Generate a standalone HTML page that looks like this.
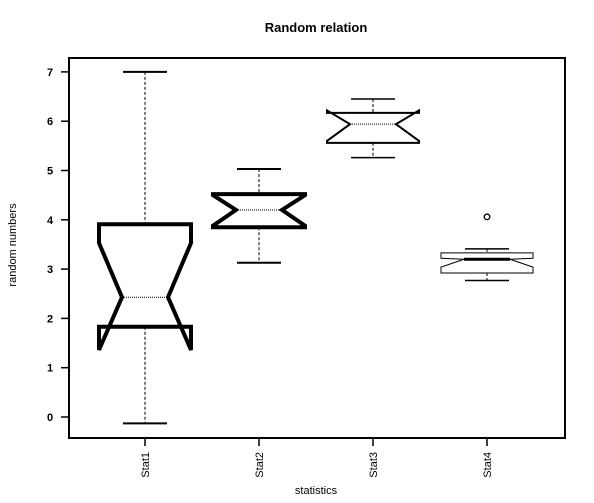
<!DOCTYPE html>
<html><head><meta charset="utf-8"><style>
html,body{margin:0;padding:0;background:#fff;}
svg{display:block;font-family:"Liberation Sans",sans-serif;}
</style></head><body>
<svg id="chart" width="594" height="503" viewBox="0 0 594 503">
<text x="316" y="32" text-anchor="middle" font-size="13" font-weight="bold">Random relation</text>
<rect x="69" y="58" width="496" height="380" fill="none" stroke="#000" stroke-width="2"/>
<g id="yaxis"></g>
<g id="xaxis"></g>
<g id="boxes"></g>
<text x="316" y="494" text-anchor="middle" font-size="11">statistics</text>
<text transform="translate(16,245) rotate(-90)" text-anchor="middle" font-size="11">random numbers</text>
</svg>
<script>
const categories = ["Stat1","Stat2","Stat3","Stat4"];
const whiskerLo = [-0.13, 3.13, 5.26, 2.77];
const q1 = [1.83, 3.85, 5.56, 2.92];
const median = [2.43, 4.2, 5.94, 3.2];
const q3 = [3.91, 4.52, 6.17, 3.33];
const whiskerHi = [7.0, 5.03, 6.45, 3.41];
const notchLo = [1.36, 3.88, 5.6, 3.04];
const notchHi = [3.53, 4.5, 6.22, 3.22];
const outliers = [[], [], [], [4.06]];
const yTicks = [0,1,2,3,4,5,6,7];
const lineWidths = [4, 4, 2, 1];

const NS = "http://www.w3.org/2000/svg";
const y = v => 417 - v * 49.3;
const x = i => 145 + i * 114;
const halfW = 46, capW = 22;
function mk(tag, attrs, parent){
  const e = document.createElementNS(NS, tag);
  for (const k in attrs) e.setAttribute(k, attrs[k]);
  parent.appendChild(e);
  return e;
}
const ya = document.getElementById("yaxis");
yTicks.forEach(t => {
  const l = mk("line", {x1:61, x2:69, y1:y(t), y2:y(t), stroke:"#000", "stroke-width":1.5}, ya);
  
  
  const tx = mk("text", {x:50, y:y(t)+4, "text-anchor":"middle", "font-size":11, "font-weight":"bold"}, ya);
  
  
  tx.textContent = t;
});
const xa = document.getElementById("xaxis");
const bx = document.getElementById("boxes");
categories.forEach((c, i) => {
  const cx = x(i);
  const l = mk("line", {x1:cx, x2:cx, y1:438, y2:446, stroke:"#000", "stroke-width":1.5}, xa);
  
  
  const tx = mk("text", {transform:`translate(${cx+4},452) rotate(-90)`, "text-anchor":"end", "font-size":11}, xa);
  
  
  tx.textContent = c;
  const g = mk("g", {}, bx);
  
  
  const lw = lineWidths[i];
  // whiskers
  const w1 = mk("line", {x1:cx, x2:cx, y1:y(whiskerHi[i]), y2:y(q3[i]), stroke:"#000", "stroke-width":1, "stroke-dasharray":"3,2"}, g);
  
  
  const w2 = mk("line", {x1:cx, x2:cx, y1:y(q1[i]), y2:y(whiskerLo[i]), stroke:"#000", "stroke-width":1, "stroke-dasharray":"3,2"}, g);
  
  
  const c1 = mk("line", {x1:cx-capW, x2:cx+capW, y1:y(whiskerHi[i]), y2:y(whiskerHi[i]), stroke:"#000", "stroke-width":Math.max(1.5, lw/2)}, g);
  
  
  const c2 = mk("line", {x1:cx-capW, x2:cx+capW, y1:y(whiskerLo[i]), y2:y(whiskerLo[i]), stroke:"#000", "stroke-width":Math.max(1.5, lw/2)}, g);
  
  
  // notched box
  const L = cx-halfW, R = cx+halfW;
  const pts = [[L,q1[i]],[L,notchLo[i]],[cx-halfW/2,median[i]],[L,notchHi[i]],[L,q3[i]],
               [R,q3[i]],[R,notchHi[i]],[cx+halfW/2,median[i]],[R,notchLo[i]],[R,q1[i]]];
  const p = mk("polygon", {points: pts.map(q => q[0]+","+y(q[1])).join(" "), fill:"#fff", stroke:"#000", "stroke-width":lw, "stroke-linejoin":"miter"}, g);
  
  
  const m = mk("line", {x1:cx-halfW/2, x2:cx+halfW/2, y1:y(median[i]), y2:y(median[i]), stroke:"#000", "stroke-width": i===3?3:1, "stroke-dasharray": i===3?"":"1,1"}, g);
  
  
  outliers[i].forEach(o => {
    const ci = mk("circle", {cx:cx, cy:y(o), r:2.8, fill:"none", stroke:"#000", "stroke-width":1.3}, g);
    
    
  });
});
</script>
</body></html>
